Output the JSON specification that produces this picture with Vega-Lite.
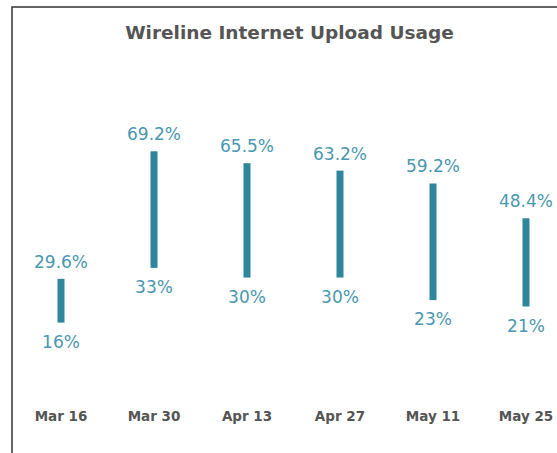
{
  "$schema": "https://vega.github.io/schema/vega-lite/v6.json",
  "autosize": "none",
  "width": 563,
  "height": 467,
  "padding": {"left": 12, "top": 7, "right": 0, "bottom": 0},
  "background": "white",
  "title": {
    "text": "Wireline Internet Upload Usage",
    "orient": "top",
    "anchor": "middle",
    "frame": "group",
    "offset": -44,
    "baseline": "middle",
    "dx": -4,
    "font": "DejaVu Sans",
    "fontSize": 18.5,
    "fontWeight": "bold",
    "color": "#555555"
  },
  "data": {
    "values": [
      {"date": "Mar 16", "low": 16, "high": 29.6, "lowLabel": "16%", "highLabel": "29.6%"},
      {"date": "Mar 30", "low": 33, "high": 69.2, "lowLabel": "33%", "highLabel": "69.2%"},
      {"date": "Apr 13", "low": 30, "high": 65.5, "lowLabel": "30%", "highLabel": "65.5%"},
      {"date": "Apr 27", "low": 30, "high": 63.2, "lowLabel": "30%", "highLabel": "63.2%"},
      {"date": "May 11", "low": 23, "high": 59.2, "lowLabel": "23%", "highLabel": "59.2%"},
      {"date": "May 25", "low": 21, "high": 48.4, "lowLabel": "21%", "highLabel": "48.4%"}
    ]
  },
  "encoding": {
    "x": {
      "field": "date",
      "type": "ordinal",
      "sort": null,
      "scale": {"paddingInner": 0, "paddingOuter": 0.027},
      "axis": {
        "title": null,
        "orient": "bottom",
        "offset": -68,
        "domain": false,
        "ticks": false,
        "labelPadding": 3,
        "labelAngle": 0,
        "labelFont": "DejaVu Sans",
        "labelFontSize": 13.5,
        "labelFontWeight": "bold",
        "labelColor": "#555555",
        "grid": false
      }
    }
  },
  "layer": [
    {
      "mark": {"type": "bar", "width": 7, "color": "#2e869c"},
      "encoding": {
        "y": {"field": "low", "type": "quantitative", "scale": {"domain": [-31, 114], "nice": false, "zero": false}, "axis": null},
        "y2": {"field": "high"}
      }
    },
    {
      "mark": {"type": "text", "baseline": "bottom", "dy": -7, "font": "DejaVu Sans", "fontSize": 17, "color": "#4a97b0"},
      "encoding": {
        "y": {"field": "high", "type": "quantitative"},
        "text": {"field": "highLabel"}
      }
    },
    {
      "mark": {"type": "text", "baseline": "top", "dy": 12, "font": "DejaVu Sans", "fontSize": 17, "color": "#4a97b0"},
      "encoding": {
        "y": {"field": "low", "type": "quantitative"},
        "text": {"field": "lowLabel"}
      }
    }
  ],
  "config": {
    "view": {"stroke": "#333333", "strokeWidth": 1.5}
  }
}
